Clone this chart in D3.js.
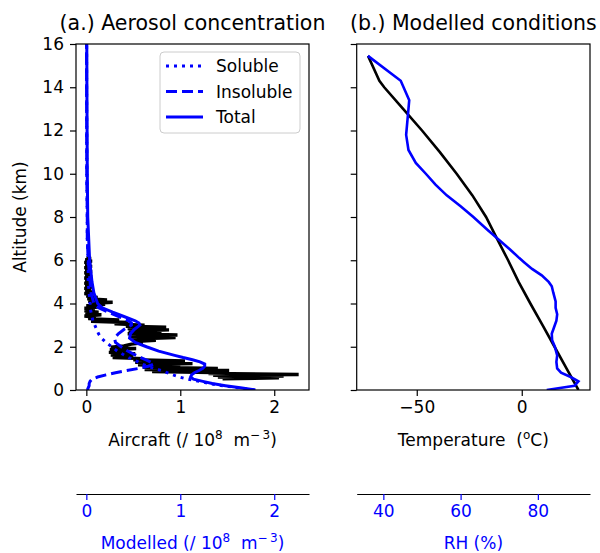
<!DOCTYPE html>
<html>
<head>
<meta charset="utf-8">
<script src="https://cdn.jsdelivr.net/npm/d3@7"></script>
<style>
  body { margin: 0; background: #fff; }
  svg { display: block; }
  text { font-family: "DejaVu Sans", sans-serif; }
</style>
</head>
<body>
<svg id="chart" width="600" height="553"></svg>
<script>
// Modelled aerosol profiles (10^8 m^-3) on model altitude levels (km)
const modelAlt  = [0, 0.1, 0.2, 0.3, 0.4, 0.5, 0.6, 0.7, 0.8, 0.9, 1.0, 1.1, 1.2, 1.3, 1.4, 1.5, 1.6, 1.8, 2.0, 2.2, 2.4, 2.6, 2.8, 3.0, 3.1, 3.2, 3.4, 3.6, 3.8, 4.0, 4.5, 5, 6, 7, 8, 10, 12, 14, 16];
const soluble   = [1.79, 1.62, 1.45, 1.31, 1.20, 1.08, 0.99, 0.92, 0.86, 0.80, 0.72, 0.65, 0.59, 0.55, 0.50, 0.45, 0.41, 0.33, 0.27, 0.21, 0.16, 0.13, 0.11, 0.09, 0.08, 0.07, 0.06, 0.05, 0.04, 0.04, 0.03, 0.02, 0.02, 0.01, 0.01, 0.005, 0.004, 0.003, 0.003];
const insoluble = [0.01, 0.02, 0.03, 0.03, 0.04, 0.06, 0.12, 0.21, 0.31, 0.43, 0.56, 0.66, 0.72, 0.68, 0.63, 0.58, 0.53, 0.44, 0.37, 0.31, 0.30, 0.34, 0.40, 0.48, 0.48, 0.45, 0.34, 0.23, 0.13, 0.08, 0.05, 0.04, 0.02, 0.01, 0.01, 0.005, 0.004, 0.003, 0.002];
const total     = [1.80, 1.64, 1.48, 1.34, 1.24, 1.14, 1.11, 1.12, 1.15, 1.20, 1.24, 1.26, 1.26, 1.21, 1.13, 1.03, 0.94, 0.77, 0.64, 0.52, 0.46, 0.47, 0.51, 0.57, 0.56, 0.52, 0.40, 0.28, 0.17, 0.12, 0.08, 0.06, 0.035, 0.025, 0.015, 0.01, 0.008, 0.006, 0.005];

// Aircraft profile: [altitude km, concentration 10^8 m^-3]
const aircraft = [
  [6.12,0.00],[6.08,0.05],[6.02,-0.01],[5.96,0.06],[5.90,-0.02],[5.84,0.05],[5.78,-0.01],[5.72,0.06],
  [5.66,-0.02],[5.60,0.04],[5.54,-0.01],[5.48,0.06],[5.42,-0.02],[5.36,0.05],[5.30,-0.01],[5.24,0.06],
  [5.18,-0.02],[5.12,0.05],[5.06,-0.01],[5.00,0.06],[4.94,-0.02],[4.88,0.04],[4.82,-0.01],[4.76,0.06],
  [4.70,-0.02],[4.64,0.05],[4.58,-0.01],[4.52,0.07],[4.46,-0.02],[4.40,0.06],[4.34,0.00],[4.28,0.12],
  [4.22,0.01],[4.16,0.22],[4.10,0.02],[4.06,0.28],[4.00,0.03],[3.96,0.20],[3.90,0.00],[3.84,0.12],
  [3.78,-0.02],[3.72,0.09],[3.66,-0.02],[3.60,0.13],[3.54,-0.01],[3.48,0.16],[3.42,-0.02],[3.36,0.10],
  [3.30,0.02],[3.24,0.35],[3.18,0.05],[3.12,0.45],[3.06,0.30],[3.00,0.62],[2.95,0.42],[2.90,0.85],
  [2.84,0.44],[2.78,0.88],[2.72,0.45],[2.66,0.80],[2.60,0.44],[2.54,0.97],[2.48,0.46],[2.42,0.95],
  [2.36,0.48],[2.30,0.74],[2.24,0.50],[2.18,0.60],[2.12,0.48],[2.04,0.40],[1.98,0.26],[1.92,0.53],
  [1.86,0.25],[1.80,0.45],[1.74,0.24],[1.68,0.52],[1.62,0.26],[1.56,0.50],[1.50,0.28],[1.45,0.60],
  [1.40,0.50],[1.34,1.05],[1.28,0.52],[1.22,1.13],[1.16,0.55],[1.10,1.00],[1.05,0.60],[1.00,1.40],
  [0.95,0.62],[0.90,1.52],[0.85,0.70],[0.80,1.50],[0.76,1.30],[0.72,2.26],[0.68,1.35],[0.64,2.10],
  [0.60,1.40],[0.56,2.05],[0.52,1.45]
];

// Modelled temperature (degC) and relative humidity (%) profiles
const tempAlt     = [0, 1, 2, 3, 4, 5, 6, 7, 8, 9, 10, 11, 12, 13, 14, 14.3, 15.45];
const temperature = [27.0, 21.3, 15.6, 9.9, 4.1, -1.5, -6.5, -11.8, -17.0, -23.5, -31.0, -39.0, -47.5, -56.5, -65.5, -67.8, -73.2];
const rhAlt = [0.0, 0.2, 0.4, 0.6, 0.8, 1.0, 1.3, 1.6, 2.0, 2.3, 2.6, 2.9, 3.2, 3.5, 3.8, 4.1, 4.5, 4.8, 5.0, 5.3, 5.6, 5.9, 6.1, 6.5, 6.9, 7.4, 8.0, 8.5, 9.0, 9.5, 10.0, 10.5, 11.1, 11.8, 12.6, 13.4, 14.3, 15.45];
const rh    = [82.3, 89.5, 90.5, 88.5, 86.0, 85.0, 84.8, 85.0, 84.4, 83.7, 83.6, 84.2, 84.8, 85.0, 84.6, 84.6, 84.0, 83.6, 82.8, 81.0, 78.5, 76.5, 75.2, 72.8, 70.2, 67.0, 63.3, 60.0, 56.4, 53.5, 51.0, 48.4, 46.5, 45.9, 46.3, 46.7, 44.5, 36.0];

const altTicks  = [0, 2, 4, 6, 8, 10, 12, 14, 16];
const concTicks = [0, 1, 2];
const tempTicks = [-50, 0];
const rhTicks   = [40, 60, 80];

const legendItems = ["Soluble", "Insoluble", "Total"];

const BLUE = "#0000ff";
const FS = 17;
const svg = d3.select("#chart");

const plotTop = 44, plotBottom = 390;
const panelA = { x0: 76, x1: 309 };
const panelB = { x0: 356.7, x1: 590 };
const secondAxisY = 494;

const y = d3.scaleLinear().domain([0, 16]).range([plotBottom, plotTop]);
const xConc = d3.scaleLinear().domain([-0.11, 2.37]).range([panelA.x0, panelA.x1]);
const xTemp = d3.scaleLinear().domain([-78.6, 32.5]).range([panelB.x0, panelB.x1]);
const xRH   = d3.scaleLinear().domain([33.1, 93.5]).range([panelB.x0, panelB.x1]);

function styleAxis(g, color) {
  g.selectAll("text").attr("font-size", FS).attr("font-family", "DejaVu Sans, sans-serif").attr("fill", color);
  g.selectAll(".tick line").attr("stroke", color).attr("stroke-width", 1.2);
  g.select(".domain").remove();
}

// clip paths for the two panels
const defs = svg.append("defs");
[["clipA", panelA], ["clipB", panelB]].forEach(([id, p]) => {
  defs.append("clipPath").attr("id", id).append("rect")
    .attr("x", p.x0).attr("y", plotTop).attr("width", p.x1 - p.x0).attr("height", plotBottom - plotTop);
});

// ---------- Panel (a): aerosol concentration ----------
const gA = svg.append("g").attr("clip-path", "url(#clipA)");

gA.append("path")
  .datum(aircraft)
  .attr("fill", "none").attr("stroke", "#000").attr("stroke-width", 3.4).attr("stroke-linejoin", "miter")
  .attr("d", d3.line().x(d => xConc(d[1])).y(d => y(d[0])));

const modelLine = vals => d3.line().x((d, i) => xConc(vals[i])).y(d => y(d))(modelAlt);
const styles = {
  Soluble:   { data: soluble,   dash: "3,5" },
  Insoluble: { data: insoluble, dash: "11,5" },
  Total:     { data: total,     dash: null }
};
legendItems.forEach(k => {
  const p = gA.append("path").attr("d", modelLine(styles[k].data))
    .attr("fill", "none").attr("stroke", BLUE).attr("stroke-width", 3);
  if (styles[k].dash) p.attr("stroke-dasharray", styles[k].dash);
});

// axes for panel (a)
svg.append("g").attr("transform", `translate(${panelA.x0},0)`)
  .call(d3.axisLeft(y).tickValues(altTicks).tickSize(6).tickPadding(6))
  .call(g => styleAxis(g, "#000"));
svg.append("g").attr("transform", `translate(0,${plotBottom})`)
  .call(d3.axisBottom(xConc).tickValues(concTicks).tickSize(6).tickPadding(5).tickFormat(d3.format("d")))
  .call(g => styleAxis(g, "#000"));
svg.append("rect").attr("x", panelA.x0).attr("y", plotTop)
  .attr("width", panelA.x1 - panelA.x0).attr("height", plotBottom - plotTop)
  .attr("fill", "none").attr("stroke", "#000").attr("stroke-width", 1.2);

// second (modelled) axis
const mAx = svg.append("g").attr("transform", `translate(0,${secondAxisY})`)
  .call(d3.axisBottom(xConc).tickValues(concTicks).tickSize(6).tickSizeOuter(0).tickPadding(5).tickFormat(d3.format("d")));
mAx.selectAll("text").attr("font-size", FS).attr("fill", BLUE);
mAx.selectAll(".tick line").attr("stroke", BLUE).attr("stroke-width", 1.2);
mAx.select(".domain").attr("stroke", "#000").attr("stroke-width", 1.2);

// legend
const lg = svg.append("g");
lg.append("rect").attr("x", 160).attr("y", 52).attr("width", 140).attr("height", 81).attr("rx", 4)
  .attr("fill", "#fff").attr("fill-opacity", 0.8).attr("stroke", "#cccccc").attr("stroke-width", 1);
legendItems.forEach((k, i) => {
  const ly = 66 + i * 25.5;
  const l = lg.append("line").attr("x1", 166).attr("x2", 203).attr("y1", ly).attr("y2", ly)
    .attr("stroke", BLUE).attr("stroke-width", 3);
  if (styles[k].dash) l.attr("stroke-dasharray", styles[k].dash);
  lg.append("text").attr("x", 216).attr("y", ly + 6).attr("font-size", FS).text(k);
});

// titles and labels
svg.append("text").attr("x", (panelA.x0 + panelA.x1) / 2).attr("y", 30).attr("text-anchor", "middle")
  .attr("font-size", 20.5).text("(a.) Aerosol concentration");
svg.append("text").attr("transform", `translate(26,${(plotTop + plotBottom) / 2}) rotate(-90)`)
  .attr("text-anchor", "middle").attr("font-size", FS).text("Altitude (km)");

function unitLabel(x, yPos, prefix, color) {
  const t = svg.append("text").attr("x", x).attr("y", yPos).attr("text-anchor", "middle")
    .attr("font-size", FS).attr("fill", color);
  t.append("tspan").text(prefix + " (/ 10");
  t.append("tspan").attr("dy", -7).attr("font-size", 12).text("8");
  t.append("tspan").attr("dy", 7).text("\u00a0\u00a0m");
  t.append("tspan").attr("dy", -7).attr("font-size", 12).text("\u2212\u20093");
  t.append("tspan").attr("dy", 7).text(")");
}
unitLabel((panelA.x0 + panelA.x1) / 2, 446, "Aircraft", "#000");
unitLabel((panelA.x0 + panelA.x1) / 2, 549, "Modelled", BLUE);

// ---------- Panel (b): modelled conditions ----------
const gB = svg.append("g").attr("clip-path", "url(#clipB)");
gB.append("path")
  .attr("d", d3.line().x((d, i) => xTemp(temperature[i])).y(d => y(d))(tempAlt))
  .attr("fill", "none").attr("stroke", "#000").attr("stroke-width", 2.6);
gB.append("path")
  .attr("d", d3.line().x((d, i) => xRH(rh[i])).y(d => y(d))(rhAlt))
  .attr("fill", "none").attr("stroke", BLUE).attr("stroke-width", 2.6);

svg.append("g").attr("transform", `translate(${panelB.x0},0)`)
  .call(d3.axisLeft(y).tickValues(altTicks).tickSize(6).tickFormat(""))
  .call(g => styleAxis(g, "#000"));
svg.append("g").attr("transform", `translate(0,${plotBottom})`)
  .call(d3.axisBottom(xTemp).tickValues(tempTicks).tickSize(6).tickPadding(5)
    .tickFormat(d => d < 0 ? "\u2212" + Math.abs(d) : d))
  .call(g => styleAxis(g, "#000"));
svg.append("rect").attr("x", panelB.x0).attr("y", plotTop)
  .attr("width", panelB.x1 - panelB.x0).attr("height", plotBottom - plotTop)
  .attr("fill", "none").attr("stroke", "#000").attr("stroke-width", 1.2);

const rAx = svg.append("g").attr("transform", `translate(0,${secondAxisY})`)
  .call(d3.axisBottom(xRH).tickValues(rhTicks).tickSize(6).tickSizeOuter(0).tickPadding(5));
rAx.selectAll("text").attr("font-size", FS).attr("fill", BLUE);
rAx.selectAll(".tick line").attr("stroke", BLUE).attr("stroke-width", 1.2);
rAx.select(".domain").attr("stroke", "#000").attr("stroke-width", 1.2);

svg.append("text").attr("x", (panelB.x0 + panelB.x1) / 2).attr("y", 30).attr("text-anchor", "middle")
  .attr("font-size", 20.5).text("(b.) Modelled conditions");

const tl = svg.append("text").attr("x", (panelB.x0 + panelB.x1) / 2).attr("y", 446)
  .attr("text-anchor", "middle").attr("font-size", FS);
tl.append("tspan").text("Temperature\u00a0\u00a0(");
tl.append("tspan").attr("dy", -7).attr("font-size", 12).text("o");
tl.append("tspan").attr("dy", 7).text("C)");

svg.append("text").attr("x", (panelB.x0 + panelB.x1) / 2).attr("y", 549)
  .attr("text-anchor", "middle").attr("font-size", FS).attr("fill", BLUE).text("RH (%)");
</script>
</body>
</html>
